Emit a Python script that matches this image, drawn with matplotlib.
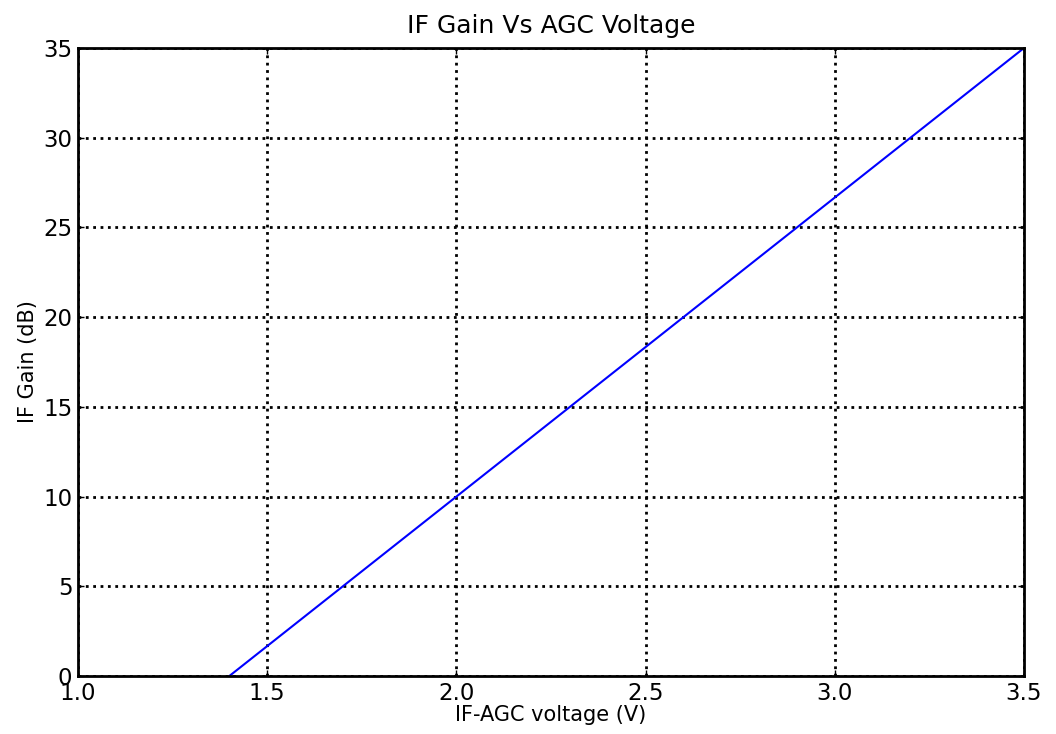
import numpy as np
import matplotlib; matplotlib.use('Agg')
import matplotlib.pyplot as plt

# IF gain vs AGC control voltage (straight line end points)
agc_v = [1.4, 3.5]
gain_db = [0.0, 35.0]
xticks = [1.0, 1.5, 2.0, 2.5, 3.0, 3.5]
yticks = [0, 5, 10, 15, 20, 25, 30, 35]

fig = plt.figure(figsize=(10.56, 7.34), dpi=100)
ax = fig.add_axes([78/1056, 1-676/734, (1024-78)/1056, (676-48)/734])
ax.plot(agc_v, gain_db, color='blue', lw=1.5)
ax.set_xlim(1.0, 3.5); ax.set_ylim(0, 35)
ax.set_xticks(xticks); ax.set_yticks(yticks)
ax.set_xticklabels(['%.1f' % v for v in xticks])
ax.grid(True, color='k', linestyle=':', lw=2)
ax.tick_params(direction='in', top=True, right=True, length=4, width=1,
               labelsize=16.5, pad=4)
for s in ax.spines.values():
    s.set_linewidth(2)
ax.set_xlabel('IF-AGC voltage (V)', fontsize=15, labelpad=0)
ax.set_ylabel('IF Gain (dB)', fontsize=15, labelpad=4)
ax.set_title('IF Gain Vs AGC Voltage', fontsize=18, pad=11)
fig.savefig('out.png', dpi=100)
